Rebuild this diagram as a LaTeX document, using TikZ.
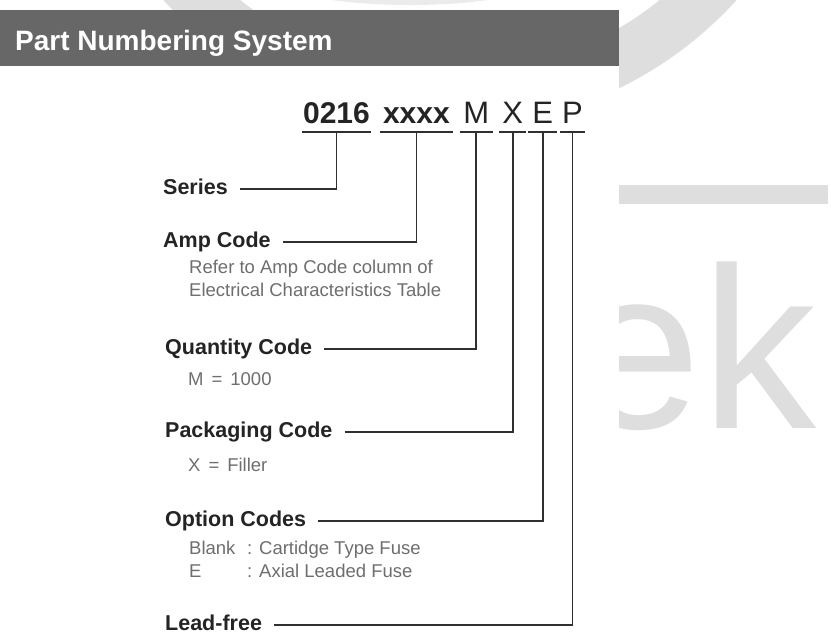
\documentclass[tikz,border=0pt]{standalone}
\usepackage{fontspec}
\setmainfont{Liberation Sans}
\usetikzlibrary{positioning}
\definecolor{cink}{HTML}{242424}
\definecolor{cline}{HTML}{303030}
\definecolor{csub}{HTML}{6E6E6E}
\definecolor{chead}{HTML}{676767}
\definecolor{cwm}{HTML}{DEDEDE}
\tikzset{
  title/.style={font=\bfseries\fontsize{28}{30}\selectfont, text=white, inner sep=0pt, anchor=base west},
  lbl/.style={font=\bfseries\fontsize{21.5}{24}\selectfont, text=cink, inner sep=0pt, text height=10pt, text depth=0pt, anchor=base west},
  sub/.style={font=\fontsize{18.5}{23}\selectfont, text=csub, inner sep=0pt, anchor=base west, align=left},
  pn/.style={text=cink, inner sep=0pt, text height=22pt, text depth=9pt, anchor=base},
  digits/.style={pn, font=\bfseries\fontsize{30}{32}\selectfont},
  letter/.style={pn, font=\fontsize{31}{32}\selectfont},
  uline/.style={draw=cline, line width=1.6pt},
  leader/.style={draw=cline, line width=1.8pt, line join=miter, shorten <=12pt},
}

\begin{document}
\begin{tikzpicture}[x=1pt, y=-1pt]
  \useasboundingbox (0,0) rectangle (831,633);
  \fill[cwm, even odd rule] (450,-260) circle[radius=387] (450,-260) circle[radius=334];
  \fill[cwm!60] (410,-20) ellipse[x radius=130, y radius=25];
  \fill[cwm] (619,185) rectangle (828,204);
  \node[text=cwm, font=\fontsize{230}{230}\selectfont, inner sep=0pt, anchor=base west] (wm) at (573.7,428) {ek};
  \fill[white] (0,10) rectangle (619,633);
  \fill[chead] (0,10) rectangle (619,66);
  \node[title] (head) at (15,50) {Part Numbering System};

  \node[digits, minimum width=69pt] (d0216) at (336.5,123) {0216};
  \node[digits, minimum width=72pt, right=9pt of d0216] (dxxxx) {xxxx};
  \node[letter, minimum width=33pt, right=7pt of dxxxx] (dM) {M};
  \node[letter, minimum width=27pt, right=6pt of dM] (dX) {X};
  \node[letter, minimum width=28pt, right=2pt of dX] (dE) {E};
  \node[letter, minimum width=25pt, right=3pt of dE] (dP) {P};
  \foreach \n in {d0216,dxxxx,dM,dX,dE,dP}
    \draw[uline] (\n.south west) -- (\n.south east);

  \node[lbl] (series) at (163,194) {Series};
  \node[lbl] (amp) at (163,247) {Amp Code};
  \node[sub] (ampnote) at (189,296) {Refer to Amp Code column of\\Electrical Characteristics Table};
  \node[lbl] (qty) at (165,354) {Quantity Code};
  \node[sub] (qtynote) at (188,385) {M\hspace{8pt}=\hspace{8pt}1000};
  \node[lbl] (pack) at (165,437) {Packaging Code};
  \node[sub] (packnote) at (188,471) {X\hspace{8pt}=\hspace{8pt}Filler};
  \node[lbl] (opt) at (165,526) {Option Codes};
  \node[sub] (optnote) at (189,577) {\makebox[58pt][l]{Blank}: Cartidge Type Fuse\\\makebox[58pt][l]{E}: Axial Leaded Fuse};
  \node[lbl] (lead) at (165,630) {Lead-free};

  \draw[leader] (series.east) -| (d0216.south);
  \draw[leader] (amp.east) -| (dxxxx.south);
  \draw[leader] (qty.east) -| (dM.south);
  \draw[leader] (pack.east) -| (dX.south);
  \draw[leader] (opt.east) -| (dE.south);
  \draw[leader] (lead.east) -| (dP.south);
\end{tikzpicture}
\end{document}
